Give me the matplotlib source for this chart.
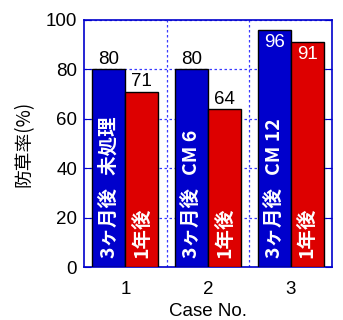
import matplotlib
matplotlib.use("Agg")
import matplotlib.pyplot as plt
import numpy as np

plt.rcParams['font.family'] = ['Liberation Sans', 'Noto Sans CJK JP', 'DejaVu Sans']

cases = [1, 2, 3]
after_3m = [80, 80, 96]
after_1y = [71, 64, 91]
labels_3m = ["3ヶ月後   未処理", "3ヶ月後   CM 6", "3ヶ月後   CM 12"]
labels_1y = ["1年後", "1年後", "1年後"]

blue = "#0000cc"
grid_blue = "#3a3aff"
red = "#dd0000"
w = 0.4
bar_font = ['Noto Sans CJK JP', 'DejaVu Sans']

fig = plt.figure(figsize=(3.43, 3.2), dpi=100)
ax = fig.add_axes([84/343, 53/320, 248/343, 247/320])

x = np.array(cases)
ax.bar(x - w/2, after_3m, w, color=blue, edgecolor="black", linewidth=1, zorder=3)
ax.bar(x + w/2, after_1y, w, color=red, edgecolor="black", linewidth=1, zorder=3)

for xi, v, lab in zip(x, after_3m, labels_3m):
    ax.text(xi - w/2, 3.5, lab, rotation=90, ha="center", va="bottom", color="white",
            fontsize=14, fontweight="bold", family=bar_font, zorder=4)
    if v > 90:
        ax.text(xi - w/2, v - 1.5, str(v), ha="center", va="top", color="white", fontsize=13.5, zorder=4)
    else:
        ax.text(xi - w/2, v + 0.5, str(v), ha="center", va="bottom", color="black", fontsize=13.5, zorder=4)

for xi, v, lab in zip(x, after_1y, labels_1y):
    ax.text(xi + w/2, 3.5, lab, rotation=90, ha="center", va="bottom", color="white",
            fontsize=14, fontweight="bold", family=bar_font, zorder=4)
    if v > 90:
        ax.text(xi + w/2, v - 1.5, str(v), ha="center", va="top", color="white", fontsize=13.5, zorder=4)
    else:
        ax.text(xi + w/2, v + 0.5, str(v), ha="center", va="bottom", color="black", fontsize=13.5, zorder=4)

ax.set_xlim(0.5, 3.5)
ax.set_ylim(0, 100)
ax.set_yticks([0, 20, 40, 60, 80, 100])
ax.set_xticks(cases)
ax.set_xticks([1.5, 2.5], minor=True)
ax.tick_params(axis="x", which="both", length=0, labelsize=13.5, pad=10)
ax.tick_params(axis="y", direction="in", length=5, color=blue, labelsize=13.5, right=True, pad=5)
ax.grid(axis="y", color=grid_blue, linestyle=(0, (2, 2)), linewidth=0.9, zorder=1)
ax.grid(axis="x", which="minor", color=grid_blue, linestyle=(0, (2, 2)), linewidth=0.9, zorder=1)
for s in ax.spines.values():
    s.set_color(blue)
    s.set_linewidth(1.2)

ax.set_xlabel("Case No.", fontsize=13.5, labelpad=4)
ax.set_ylabel("防草率(%)", fontsize=13.5, labelpad=8, family=['Noto Sans CJK JP', 'DejaVu Sans'])

fig.savefig("out.png", dpi=100)
